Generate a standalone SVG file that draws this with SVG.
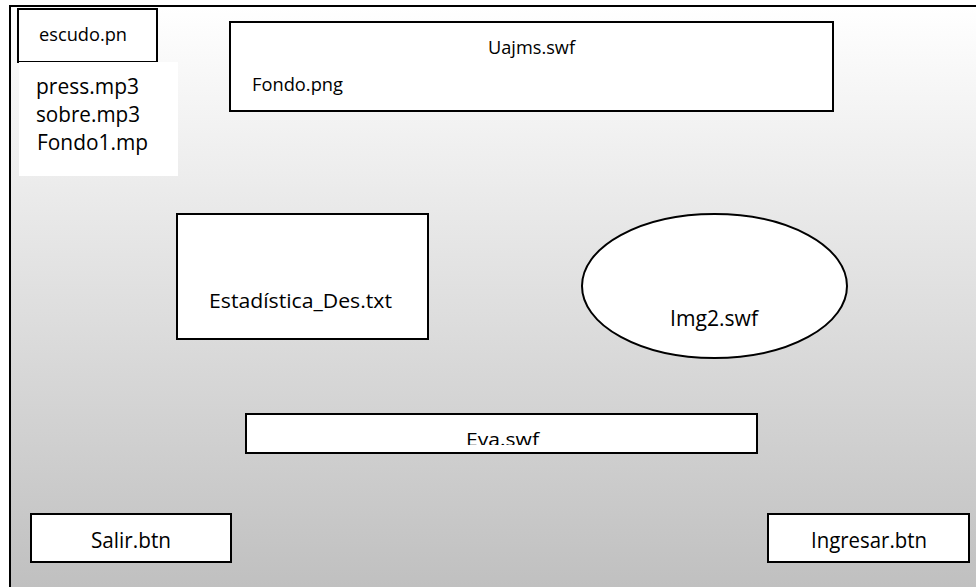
<svg xmlns="http://www.w3.org/2000/svg" width="976" height="587" viewBox="0 0 976 587">
  <defs>
    <linearGradient id="bg" x1="0" y1="6" x2="0" y2="587" gradientUnits="userSpaceOnUse">
      <stop offset="0" stop-color="#ffffff"/>
      <stop offset="1" stop-color="#c0c0c0"/>
    </linearGradient>
    <clipPath id="evaClip">
      <rect x="246" y="414" width="511" height="31"/>
    </clipPath>
    <style>
      .box { fill: #ffffff; stroke: #000000; stroke-width: 2; }
      .plain { fill: #ffffff; stroke: none; }
      .lbl { font-family: "Open Sans", "Noto Sans", "Liberation Sans", sans-serif; fill: #000000; }
      .frame { fill: none; stroke: #000000; stroke-width: 2; }
    </style>
  </defs>

  <rect x="0" y="0" width="976" height="587" fill="#ffffff"/>
  <rect x="10" y="6" width="966" height="581" fill="url(#bg)"/>
  <path class="frame" d="M10,587 V6 H976"/>

  <g id="connectors"/>

  <g id="escudo">
    <rect class="box" x="18" y="9" width="139" height="53"/>
    <text class="lbl" x="39" y="41" font-size="18" textLength="88" lengthAdjust="spacingAndGlyphs">escudo.pn</text>
  </g>

  <g id="audio">
    <rect class="plain" x="19" y="62" width="159" height="114"/>
    <text class="lbl" x="36" y="94" font-size="21" textLength="103" lengthAdjust="spacingAndGlyphs">press.mp3</text>
    <text class="lbl" x="36" y="122" font-size="21" textLength="104" lengthAdjust="spacingAndGlyphs">sobre.mp3</text>
    <text class="lbl" x="37" y="150" font-size="21" textLength="111" lengthAdjust="spacingAndGlyphs">Fondo1.mp</text>
  </g>

  <g id="uajms">
    <rect class="box" x="230" y="22" width="603" height="89"/>
    <text class="lbl" x="488" y="54" font-size="18" textLength="87" lengthAdjust="spacingAndGlyphs">Uajms.swf</text>
    <text class="lbl" x="252" y="91" font-size="18" textLength="91" lengthAdjust="spacingAndGlyphs">Fondo.png</text>
  </g>

  <g id="estadistica">
    <rect class="box" x="177" y="214" width="251" height="125"/>
    <text class="lbl" x="209" y="308" font-size="19.5" textLength="183" lengthAdjust="spacingAndGlyphs">Estadística_Des.txt</text>
  </g>

  <g id="img2">
    <ellipse class="box" cx="714.5" cy="286" rx="132.5" ry="72"/>
    <text class="lbl" x="670" y="326" font-size="21" textLength="88" lengthAdjust="spacingAndGlyphs">Img2.swf</text>
  </g>

  <g id="eva">
    <rect class="box" x="246" y="414" width="511" height="39"/>
    <text class="lbl" x="466" y="446" font-size="19" textLength="73" lengthAdjust="spacingAndGlyphs" clip-path="url(#evaClip)">Eva.swf</text>
  </g>

  <g id="salir">
    <rect class="box" x="31" y="514" width="200" height="48"/>
    <text class="lbl" x="91" y="548" font-size="21" textLength="80" lengthAdjust="spacingAndGlyphs">Salir.btn</text>
  </g>

  <g id="ingresar">
    <rect class="box" x="768" y="514" width="201" height="48"/>
    <text class="lbl" x="811" y="548" font-size="21" textLength="116" lengthAdjust="spacingAndGlyphs">Ingresar.btn</text>
  </g>
</svg>
